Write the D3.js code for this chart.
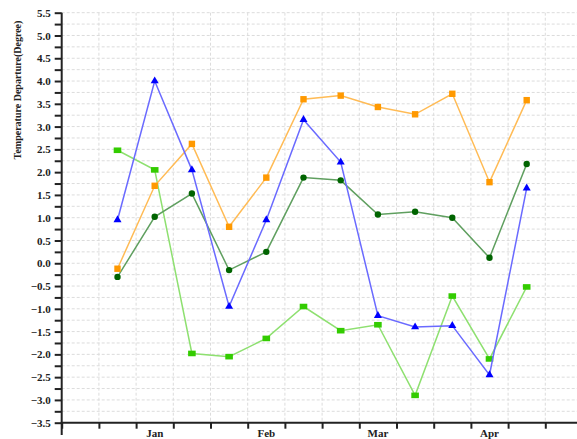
<!DOCTYPE html>
<html>
<head>
<meta charset="utf-8">
<script src="https://cdn.jsdelivr.net/npm/d3@7"></script>
<style>
  html, body { margin: 0; padding: 0; background: #fff; }
  svg { display: block; }
</style>
</head>
<body>
<svg id="chart" width="577" height="439"></svg>
<script>
// ---- data ----
const months = ["Jan", "Feb", "Mar", "Apr"];
const periods = ["Jan-1","Jan-2","Jan-3","Feb-1","Feb-2","Feb-3","Mar-1","Mar-2","Mar-3","Apr-1","Apr-2","Apr-3"];
const blueValues   = [0.95, 4.0, 2.05, -0.95, 0.95, 3.15, 2.22, -1.15, -1.40, -1.37, -2.45, 1.65];
const orangeValues = [-0.12, 1.70, 2.62, 0.80, 1.88, 3.60, 3.68, 3.43, 3.27, 3.72, 1.78, 3.58];
const darkGreenValues  = [-0.30, 1.02, 1.53, -0.15, 0.25, 1.88, 1.82, 1.07, 1.13, 1.00, 0.12, 2.18];
const lightGreenValues = [2.48, 2.05, -1.98, -2.05, -1.65, -0.95, -1.48, -1.35, -2.90, -0.72, -2.10, -0.52];
const yTickValues = d3.range(-3.5, 5.5001, 0.25);
const yLabelValues = d3.range(-3.5, 5.5001, 0.5);
const yTitle = "Temperature Departure(Degree)";

// ---- layout ----
const svg = d3.select("#chart");
const x = d3.scaleLinear().domain([0, 14]).range([61.7, 582.5]);
const y = d3.scaleLinear().domain([-3.5, 5.5]).range([422.7, 12.7]);
const pos = i => x(i + 1.5);
const font = "'Liberation Serif', 'Times New Roman', serif";

// grid
const grid = svg.append("g");
grid.selectAll("line.h").data(yTickValues.filter(v => v > -3.5)).enter().append("line")
  .attr("x1", x(0)).attr("x2", 577)
  .attr("y1", d => y(d)).attr("y2", d => y(d))
  .attr("stroke", "#dcdcdc").attr("stroke-width", 1).attr("stroke-dasharray", "3,2");
grid.selectAll("line.v").data(d3.range(1, 15)).enter().append("line")
  .attr("x1", d => x(d)).attr("x2", d => x(d))
  .attr("y1", y(5.5)).attr("y2", y(-3.5))
  .attr("stroke", "#dcdcdc").attr("stroke-width", 1).attr("stroke-dasharray", "3,2");

// y axis
const yAxis = d3.axisLeft(y).tickValues(yTickValues).tickSize(7)
  .tickFormat(d => (Math.abs(d * 2 - Math.round(d * 2)) < 1e-6) ? d3.format(".1f")(d) : "");
const gy = svg.append("g").attr("transform", `translate(${x(0)},0)`).call(yAxis);
gy.select(".domain").remove();
gy.selectAll(".tick line").attr("stroke", "#222").attr("stroke-width", 2);
gy.selectAll(".tick text").attr("font-family", font).attr("font-weight", "bold")
  .attr("font-size", 11).attr("fill", "#222").attr("x", -11);
svg.append("line").attr("x1", x(0)).attr("x2", x(0)).attr("y1", y(5.5)).attr("y2", 435)
  .attr("stroke", "#222").attr("stroke-width", 2);

// x axis
const xAxis = d3.axisBottom(x).tickValues(d3.range(0, 15)).tickSize(6).tickFormat("");
const gx = svg.append("g").attr("transform", `translate(0,${y(-3.5)})`).call(xAxis);
gx.select(".domain").remove();
gx.selectAll(".tick line").attr("stroke", "#222").attr("stroke-width", 2);
svg.append("line").attr("x1", x(0) - 1).attr("x2", 577).attr("y1", y(-3.5)).attr("y2", y(-3.5))
  .attr("stroke", "#222").attr("stroke-width", 2);
svg.append("g").selectAll("text").data(months).enter().append("text")
  .attr("x", (d, i) => pos(i * 3 + 1)).attr("y", 437)
  .attr("text-anchor", "middle").attr("font-family", font).attr("font-weight", "bold")
  .attr("font-size", 11).attr("fill", "#222").text(d => d);

// y title
svg.append("text").attr("transform", "translate(20.5,90) rotate(-90)")
  .attr("text-anchor", "middle").attr("font-family", font).attr("font-weight", "bold")
  .attr("font-size", 10).attr("fill", "#222").text(yTitle);

// series
const line = d3.line().x((d, i) => pos(i)).y(d => y(d));
const series = [
  { values: lightGreenValues, line: "#8ee070", mark: "#33cc00", shape: "rect" },
  { values: darkGreenValues, line: "#5f9f5f", mark: "#006400", shape: "circle" },
  { values: orangeValues, line: "#ffbb55", mark: "#ff9900", shape: "square" },
  { values: blueValues, line: "#6a6aff", mark: "#0000ff", shape: "triangle" }
];
series.forEach(s => {
  const g = svg.append("g");
  g.append("path").datum(s.values).attr("d", line).attr("fill", "none")
    .attr("stroke", s.line).attr("stroke-width", 1.5);
  const pts = g.selectAll(".pt").data(s.values).enter();
  if (s.shape === "circle") {
    pts.append("circle").attr("cx", (d, i) => pos(i)).attr("cy", d => y(d)).attr("r", 3.2).attr("fill", s.mark);
  } else if (s.shape === "square") {
    pts.append("rect").attr("x", (d, i) => pos(i) - 3.2).attr("y", d => y(d) - 3.2)
      .attr("width", 6.4).attr("height", 6.4).attr("fill", s.mark);
  } else if (s.shape === "rect") {
    pts.append("rect").attr("x", (d, i) => pos(i) - 3.8).attr("y", d => y(d) - 2.8)
      .attr("width", 7.6).attr("height", 5.6).attr("fill", s.mark);
  } else {
    const tri = d3.symbol().type(d3.symbolTriangle).size(28);
    pts.append("path").attr("d", tri)
      .attr("transform", (d, i) => `translate(${pos(i)},${y(d)})`).attr("fill", s.mark);
  }
});
</script>
</body>
</html>
